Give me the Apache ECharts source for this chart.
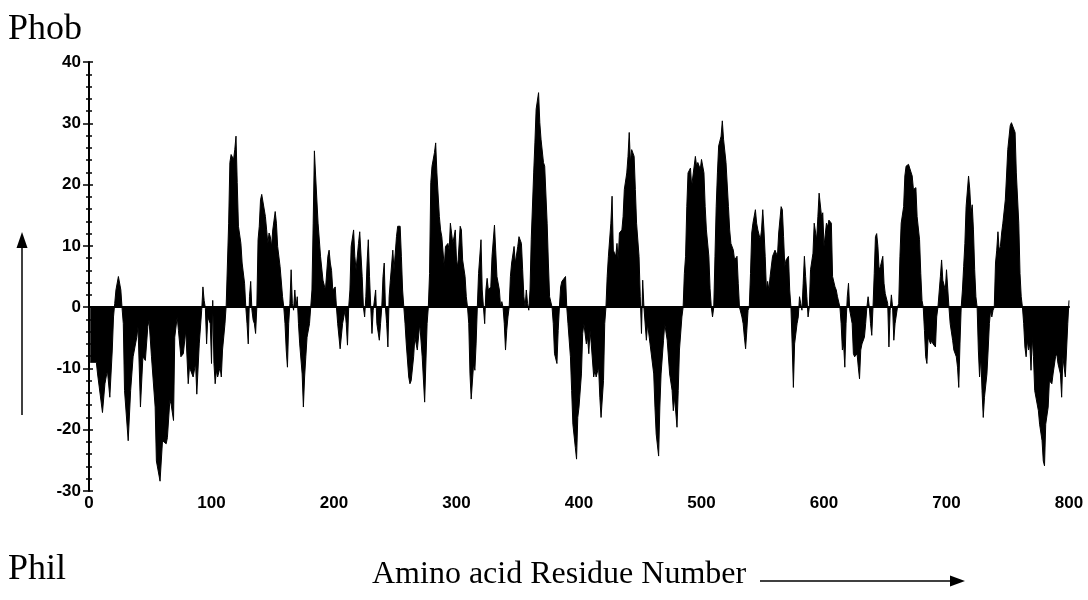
<!DOCTYPE html>
<html>
<head>
<meta charset="utf-8">
<script src="https://cdn.jsdelivr.net/npm/echarts@6/dist/echarts.min.js"></script>
<style>
  html, body { margin: 0; padding: 0; background: #fff; }
  #chart { width: 1088px; height: 600px; }
</style>
</head>
<body>
<div id="chart"></div>
<script>
// residue numbers (x) and hydropathy values (y)
var residues = [
  1, 6, 7, 11, 13, 15, 17, 19, 20, 21, 22, 24, 25, 26, 27, 28, 29, 32, 34, 36,
  39, 40, 42, 44, 46, 48, 49, 51, 54, 55, 58, 59, 60, 63, 64, 66, 67, 69, 70, 72,
  73, 75, 77, 79, 81, 82, 85, 87, 88, 90, 92, 93, 94, 95, 96,
  97, 99, 100, 101, 102, 103, 104, 105, 107, 108, 109, 111, 112, 114, 115, 116, 118, 119, 120, 121,
  122, 124, 125, 127, 128, 129, 130, 131, 132, 133, 134, 135, 136, 137, 138, 139, 140, 141, 142, 144,
  145, 146, 147, 148, 149, 150, 152, 153, 154, 156, 158, 159, 160, 161, 162, 163, 164, 165, 166, 167,
  168, 169, 170, 171, 172, 174, 175, 176, 177, 178, 180, 181, 182, 183, 184, 185, 187, 189, 191, 193,
  195, 196, 197, 198, 199,
  201, 202, 203, 205, 207, 209, 210, 211, 212, 213, 214, 216, 217, 218, 220, 221, 223, 224, 225, 226,
  227, 228, 229, 230, 231, 232, 234, 235, 237, 238, 239, 240, 241, 242, 243, 244, 245, 246, 248, 249,
  251, 252, 254, 255, 256, 257, 258, 259, 261, 262, 263, 265, 266, 268, 270, 272, 274, 276, 277, 278,
  279, 280, 282, 283, 284, 286, 287, 288, 290, 291, 293, 294, 295, 297, 298,
  299, 300, 301, 303, 304, 305, 307, 308, 309, 310, 311, 312, 314, 315, 316, 317, 318, 320, 321, 322,
  323, 324, 325, 326, 328, 329, 331, 332, 333, 335, 336, 337, 338, 339, 340, 341, 342, 343, 344, 345,
  347, 348, 350, 351, 353, 354, 355, 356, 357, 358, 359, 360, 361, 363, 364, 365, 367, 368, 369, 371,
  372, 374, 375, 376, 378, 379, 380, 382, 383, 384, 385, 386, 389, 390, 391, 393, 394, 395, 397, 398,
  399, 400, 402, 403, 404,
  406, 407, 408, 409, 410, 412, 413, 414, 416, 417, 418, 420, 421, 422, 423, 424, 426, 427, 428, 430,
  431, 432, 433, 435, 436, 437, 439, 440, 441, 442, 443, 445, 446, 447, 449, 450, 451, 452, 453, 455,
  456, 458, 461, 462, 463, 465, 466, 467, 469, 470, 472, 474, 476, 477, 478, 480, 481, 482, 484, 485,
  486, 487, 488, 489, 491, 492, 493, 495, 496, 497, 499, 500, 502, 503, 504, 506, 507, 508,
  509, 510, 511, 512, 513, 514, 516, 517, 518, 520, 521, 522, 523, 524, 526, 527, 529, 530, 531, 533,
  534, 535, 536, 537, 538, 539, 540, 541, 542, 544, 545, 546, 548, 549, 550, 551, 552, 553, 554, 555,
  556, 558, 559, 560, 562, 563, 565, 566, 567, 568, 569, 571, 572, 573, 574, 575, 576, 578, 579, 580,
  581, 582, 583, 584, 585, 586, 587, 588, 589, 591, 592, 594, 595, 596, 598, 599, 600, 602, 603, 604,
  606,
  607, 609, 610, 611, 613, 614, 615, 616, 617, 618, 619, 620, 621, 622, 623, 624, 625, 627, 628, 629,
  630, 631, 633, 634, 635, 636, 637, 638, 639, 640, 641, 642, 643, 644, 645, 646, 648, 649, 650, 652,
  653, 654, 655, 656, 657, 658, 660, 661, 662, 663, 665, 666, 667, 669, 670, 672, 673, 674, 675, 676,
  678, 679, 680, 681, 682, 683, 684, 685, 687, 688, 689, 691, 692, 693, 695, 696, 697, 699, 700, 702,
  703, 705, 706, 708, 709, 710,
  711, 712, 713, 714, 715, 716, 718, 719, 720, 721, 722, 723, 724, 725, 726, 727, 728, 729, 730, 731,
  733, 734, 735, 736, 737, 738, 739, 740, 741, 742, 743, 744, 745, 746, 748, 749, 750, 752, 753, 754,
  756, 757, 759, 760, 761, 762, 763, 764, 765, 766, 767, 768, 769, 770, 771, 772, 774, 775, 776, 778,
  779, 780, 781, 783, 784, 786, 787, 789, 790, 791, 793, 794, 795, 797, 798, 799, 800
];
var hydropathy = [
  -9.0, -9.0, -10.9, -17.2, -12.5, -10.3, -14.7, -7.0, -1.6, 0.6, 2.8, 5.0, 5.2, 2.8, -0.2, -2.7, -13.6, -21.8, -13.6, -8.1,
  -4.9, -3.2, -16.3, -8.1, -8.7, -3.2, -2.1, -8.1, -16.3, -25.1, -28.4, -28.1, -21.8, -22.3, -21.3, -15.2, -15.8, -18.5, -4.9, -1.6,
  -3.8, -8.1, -7.6, -3.8, -12.5, -9.8, -11.4, -9.2, -14.2, -6.0, -0.5, 3.3, 1.1, -0.2, -6.0,
  -1.6, -2.7, -9.2, 1.1, -9.2, -12.5, -10.3, -11.4, -9.8, -11.4, -7.0, -2.7, 0.3, 13.7, 23.6, 24.9, 24.1, 25.7, 27.9, 20.3,
  13.2, 10.4, 7.2, 3.9, 0, -2.7, -6.0, 1.7, 4.2, -0.5, -2.1, -2.7, -4.3, 0, 11.0, 13.2, 17.5, 18.4, 18.6, 14.8,
  12.6, 10.4, 12.1, 11.5, 9.9, 12.6, 15.6, 13.7, 9.9, 6.6, 1.7, 0, -2.7, -7.0, -9.8, -2.7, 0.6, 6.1, 0.6, -0.5,
  2.8, 0, 1.7, -2.7, -6.0, -10.9, -16.3, -11.4, -8.1, -4.9, -2.7, 0, 2.8, 13.7, 25.5, 21.4, 13.7, 8.3, 4.4, 2.8,
  8.3, 9.3, 7.2, 6.0, 2.8,
  3.3, 0, -2.7, -6.8, -2.7, -0.5, -2.7, -6.2, 0, 2.8, 9.9, 12.6, 8.3, 6.1, 10.4, 12.3, 5.0, 0, -1.6, 1.7,
  7.2, 11.0, 5.0, 0, -4.3, -0.5, 2.8, -2.7, -5.4, -2.7, 0, 5.0, 7.2, 0, -2.7, -6.5, 1.7, 4.4, 9.3, 6.1,
  11.5, 13.2, 13.2, 8.3, 2.8, 0, -2.7, -6.0, -11.4, -12.5, -12.0, -8.1, -4.9, -7.0, -2.7, -8.1, -15.5, -2.7, 0, 5.5,
  20.3, 23.0, 25.2, 26.8, 21.9, 14.8, 12.6, 11.5, 6.6, 9.9, 10.4, 9.3, 13.7, 10.4, 11.5,
  12.6, 7.7, 6.6, 13.2, 12.6, 7.7, 5.0, 1.7, 0, -2.7, -10.9, -15.0, -9.2, -10.3, -6.0, 0, 5.5, 11.0, 2.8, 0,
  -2.7, 2.8, 4.7, 2.8, 3.3, 8.3, 13.4, 9.3, 5.0, 2.8, 0, 0.9, 0, -2.7, -7.0, -3.8, -1.6, 0, 5.0, 7.2,
  9.9, 7.2, 9.9, 11.5, 10.4, 6.1, 1.7, 0, 2.8, 0.6, -0.5, 2.8, 11.0, 21.9, 26.8, 32.3, 35.0, 30.1, 27.4, 23.6,
  23.0, 13.7, 7.2, 1.7, 0, -2.7, -7.6, -9.2, -3.8, 0, 3.3, 4.2, 5.0, 0, -2.7, -8.1, -13.6, -19.1, -22.9, -24.8,
  -18.0, -16.3, -10.9, -4.3, -2.7,
  -6.0, -4.9, -7.6, -3.8, -6.0, -11.4, -10.3, -11.4, -9.8, -14.7, -18.0, -12.0, -2.7, 0, 5.0, 8.3, 13.7, 18.1, 9.3, 8.3,
  10.4, 7.7, 12.1, 12.6, 14.8, 19.2, 21.9, 24.6, 28.5, 23.6, 25.7, 24.6, 19.2, 13.7, 8.3, 1.7, -4.3, 4.4, 0, -5.4,
  -2.7, -6.0, -10.9, -16.3, -20.7, -24.3, -16.3, -10.9, -5.4, -2.7, -5.4, -10.9, -13.6, -16.9, -14.7, -19.6, -13.6, -7.0, -1.6, 0,
  5.5, 8.3, 16.4, 21.9, 22.7, 19.7, 21.4, 24.6, 23.0, 23.6, 22.5, 24.1, 21.9, 16.4, 12.6, 8.3, 3.0, 0,
  -1.6, 0, 8.3, 16.4, 21.9, 26.3, 27.9, 30.4, 27.4, 23.6, 23.8, 16.4, 12.6, 10.4, 9.3, 7.7, 8.3, 3.9, 0, -1.6,
  -2.7, -4.9, -6.8, -3.8, -0.5, 0, 5.5, 12.1, 13.7, 15.9, 13.7, 12.6, 11.0, 12.6, 15.9, 12.6, 8.3, 2.8, 4.2, 2.8,
  5.0, 8.3, 8.8, 9.3, 8.3, 12.1, 16.4, 15.9, 11.5, 6.6, 7.7, 8.3, 2.8, 0, -6.0, -13.1, -6.0, -2.7, -1.6, 1.7,
  0.6, -0.5, 3.9, 8.3, 5.0, 1.7, -1.6, 0, 6.1, 8.8, 13.7, 11.0, 14.8, 18.6, 14.8, 15.4, 9.9, 13.7, 13.1, 14.2,
  13.7,
  5.0, 3.3, 2.8, 1.7, 0, -2.7, -7.0, -6.0, -9.8, -2.7, 1.7, 3.9, -0.5, -1.6, -2.7, -7.6, -8.1, -7.6, -9.8, -11.7,
  -7.0, -6.0, -4.9, -2.7, 0, 1.7, 0, -2.7, -4.6, 0, 5.5, 11.5, 12.0, 9.9, 6.1, 6.6, 8.3, 3.9, 2.2, 0.6,
  -6.5, -0.5, 2.0, 0, -5.4, -2.7, 0, 0.6, 8.3, 13.7, 16.4, 21.4, 23.0, 23.3, 23.0, 21.4, 19.2, 19.2, 19.5, 14.8,
  11.0, 5.5, 1.1, 0, -3.8, -8.1, -9.2, -4.9, -6.0, -5.4, -6.0, -6.5, -1.6, 0, 5.0, 7.7, 4.4, 2.8, 6.1, 0,
  -2.7, -5.4, -7.0, -8.1, -9.8, -13.1,
  -6.0, 0, 2.8, 6.6, 10.4, 16.4, 21.4, 19.2, 15.4, 16.7, 12.6, 6.1, 1.7, 0, -7.0, -11.4, -8.1, -13.6, -18.0, -14.7,
  -10.9, -7.0, -2.7, -0.5, -1.6, -0.5, 0, 7.2, 9.3, 12.3, 9.3, 9.9, 12.1, 13.7, 17.5, 21.4, 25.7, 29.6, 30.1, 30.4,
  28.5, 21.9, 13.7, 5.5, 1.7, 0, -2.7, -6.5, -8.1, -5.4, -7.0, -6.0, -10.3, -4.9, -8.1, -13.6, -15.8, -16.9, -19.1, -21.8,
  -25.1, -25.9, -19.1, -16.3, -12.0, -12.5, -10.9, -8.1, -7.6, -9.2, -10.9, -14.7, -8.1, -11.4, -11.4, -2.7, 1.1
];
var xTicks = [0, 800, 100];
var yTicks = [-30, 40, 10];

var points = residues.map(function (r, i) { return [r, hydropathy[i]]; });

var myChart = echarts.init(document.getElementById('chart'), null, { renderer: 'canvas' });

var labelFont = { color: '#000', fontFamily: 'Liberation Sans, Arial', fontWeight: 'bold', fontSize: 17 };
var serif = 'Liberation Serif, Times New Roman, serif';

var option = {
  animation: false,
  backgroundColor: '#fff',
  grid: { left: 89, right: 19, top: 62, bottom: 109, containLabel: false },
  xAxis: [
    {
      type: 'value', min: xTicks[0], max: xTicks[1], interval: xTicks[2],
      position: 'bottom',
      axisLine: { show: false, onZero: false },
      axisTick: { show: false },
      splitLine: { show: false },
      axisLabel: Object.assign({ margin: 4 }, labelFont)
    },
    {
      // zero line across the plot
      type: 'value', min: xTicks[0], max: xTicks[1],
      position: 'bottom',
      axisLine: { show: true, onZero: true, onZeroAxisIndex: 0, lineStyle: { color: '#000', width: 2 } },
      axisTick: { show: false },
      axisLabel: { show: false },
      splitLine: { show: false }
    }
  ],
  yAxis: [
    {
      type: 'value', min: yTicks[0], max: yTicks[1], interval: yTicks[2],
      position: 'left',
      axisLine: { show: true, onZero: false, lineStyle: { color: '#000', width: 2 } },
      axisTick: { show: true, length: 6, lineStyle: { color: '#000', width: 1.5 } },
      minorTick: { show: true, splitNumber: 5, length: 3, lineStyle: { color: '#000', width: 1.5 } },
      splitLine: { show: false },
      axisLabel: Object.assign({ margin: 8 }, labelFont)
    },
    {
      // inner half of the crossing ticks
      type: 'value', min: yTicks[0], max: yTicks[1], interval: yTicks[2],
      position: 'left',
      axisLine: { show: false, onZero: false },
      axisTick: { show: true, inside: true, length: 4, lineStyle: { color: '#000', width: 1.5 } },
      minorTick: { show: true, splitNumber: 5, length: 3, lineStyle: { color: '#000', width: 1.5 } },
      splitLine: { show: false },
      axisLabel: { show: false }
    }
  ],
  series: [
    {
      type: 'line',
      xAxisIndex: 0,
      yAxisIndex: 0,
      data: points,
      showSymbol: false,
      symbol: 'none',
      lineStyle: { color: '#000', width: 1 },
      areaStyle: { color: '#000', opacity: 1 },
      z: 1
    }
  ],
  graphic: [
    { type: 'text', left: 8, top: 12, style: { text: 'Phob', font: '36px ' + serif, fill: '#000' } },
    { type: 'text', left: 8, top: 552, style: { text: 'Phil', font: '36px ' + serif, fill: '#000' } },
    { type: 'text', left: 372, top: 559, style: { text: 'Amino acid Residue Number', font: '32px ' + serif, fill: '#000' } },
    { type: 'line', shape: { x1: 760, y1: 581, x2: 952, y2: 581 }, style: { stroke: '#000', lineWidth: 1.5 } },
    { type: 'polygon', shape: { points: [[950, 575.5], [965, 581], [950, 586.5]] }, style: { fill: '#000' } },
    { type: 'line', shape: { x1: 22, y1: 415, x2: 22, y2: 246 }, style: { stroke: '#000', lineWidth: 1.5 } },
    { type: 'polygon', shape: { points: [[16.5, 248], [22, 232], [27.5, 248]] }, style: { fill: '#000' } }
  ]
};

myChart.setOption(option);
</script>
</body>
</html>
